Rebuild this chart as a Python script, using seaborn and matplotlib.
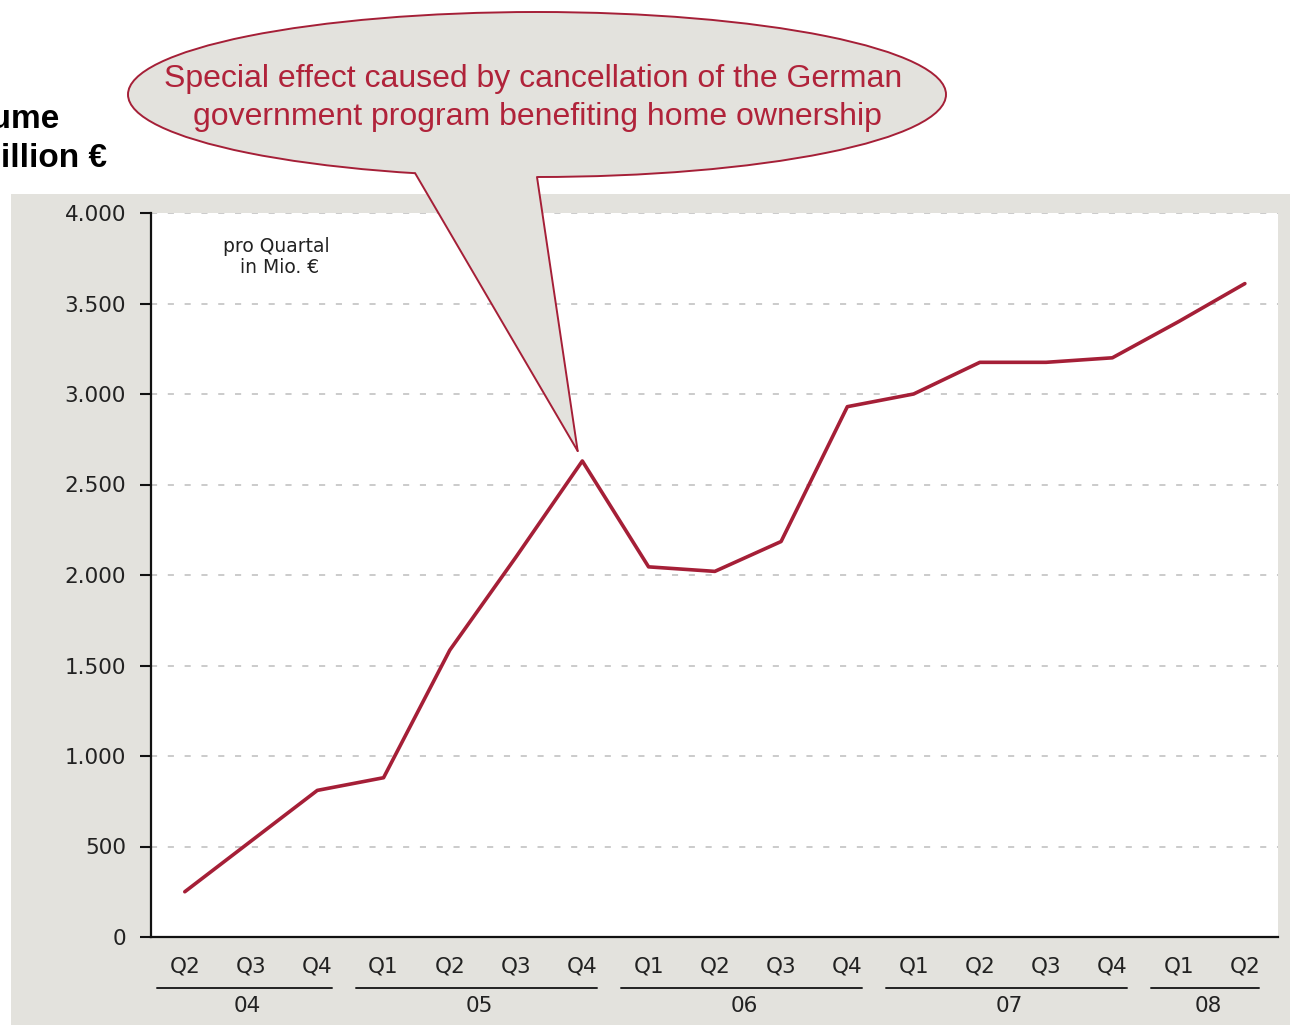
import matplotlib
matplotlib.use("Agg")
import matplotlib.pyplot as plt
import matplotlib.transforms as mtransforms
from matplotlib.patches import Ellipse, Polygon, Rectangle
from matplotlib.lines import Line2D
from matplotlib.ticker import FuncFormatter, MultipleLocator
import numpy as np
import pandas as pd
import seaborn as sns

# Quarterly volume, million EUR
quarters = ["Q2", "Q3", "Q4",
            "Q1", "Q2", "Q3", "Q4",
            "Q1", "Q2", "Q3", "Q4",
            "Q1", "Q2", "Q3", "Q4",
            "Q1", "Q2"]
years = ["04", "04", "04",
         "05", "05", "05", "05",
         "06", "06", "06", "06",
         "07", "07", "07", "07",
         "08", "08"]
volume = [250, 530, 810,
          880, 1585, 2100, 2630,
          2045, 2020, 2185,
          2930, 3000, 3175, 3175, 3200,
          3400, 3610]

callout_lines = ["Special effect caused by cancellation of the German",
                 "government program benefiting home ownership"]
peak_index = 6

LINE_RED = "#a51f37"
TEXT_RED = "#b0233a"
PANEL_GRAY = "#e3e2dd"

df = pd.DataFrame({"idx": np.arange(len(volume)), "volume": volume,
                   "quarter": quarters, "year": years})

sns.set_style("white")
plt.rcParams["font.family"] = ["DejaVu Sans"]

W, H = 1290, 1025
fig = plt.figure(figsize=(W / 100, H / 100), dpi=100)
fig.patch.set_facecolor("white")

def fx(px):
    return px / W

def fy(py):
    return 1 - py / H

# gray panel behind the chart
fig.add_artist(Rectangle((fx(11), 0), 1 - fx(11), fy(194), transform=fig.transFigure,
                         facecolor=PANEL_GRAY, edgecolor="none", zorder=0))

ax = fig.add_axes([fx(151), fy(937), fx(1278) - fx(151), fy(213) - fy(937)])
ax.set_facecolor("white")
ax.set_zorder(1)

sns.lineplot(data=df, x="idx", y="volume", color=LINE_RED, linewidth=2.6,
             ax=ax, zorder=3)

ax.set_xlim(-0.51, 16.5)
ax.set_ylim(0, 4000)
ax.yaxis.set_major_locator(MultipleLocator(500))
ax.yaxis.set_major_formatter(FuncFormatter(lambda v, p: f"{int(v):,}".replace(",", ".")))
ax.set_xticks(df["idx"])
ax.set_xticklabels(df["quarter"])
ax.set_xlabel("")
ax.set_ylabel("")

for spine in ("top", "right"):
    ax.spines[spine].set_visible(False)
for spine in ("left", "bottom"):
    ax.spines[spine].set_color("#111111")
    ax.spines[spine].set_linewidth(1.6)

ax.tick_params(axis="y", left=True, length=8, width=1.5, color="#111111",
               labelsize=15.5, labelcolor="#222222", pad=10)
ax.tick_params(axis="x", bottom=False, length=0, labelsize=15.5,
               labelcolor="#222222", pad=14)

for v in range(500, 4001, 500):
    ax.axhline(v, color="#bdbdbd", linewidth=1.1, linestyle=(0, (4, 7)), zorder=1)

# year groups below the quarter labels
trans = mtransforms.blended_transform_factory(ax.transData, ax.transAxes)
for yr, grp in df.groupby("year", sort=False):
    x0 = grp["idx"].min() - 0.42
    x1 = grp["idx"].max() + 0.22
    ax.add_line(Line2D([x0, x1], [-0.0704, -0.0704], transform=trans, color="#222222",
                       linewidth=1.4, clip_on=False))
    ax.text((x0 + x1) / 2 + 0.05, -0.0953, yr, transform=trans, ha="center", va="center",
            fontsize=15.5, color="#222222", clip_on=False)

# unit note inside the plot
fig.text(fx(276), fy(252), "pro Quartal", ha="center", va="baseline",
         fontsize=13.5, color="#222222")
fig.text(fx(280), fy(273), "in Mio. \u20ac", ha="center", va="baseline",
         fontsize=13.5, color="#222222")

# axis title at the top left
fig.text(fx(60), fy(128), "Volume", ha="right", va="baseline", fontsize=24,
         fontweight="bold", family=["Liberation Sans", "DejaVu Sans"], color="black")
fig.text(fx(107), fy(167), "in million \u20ac", ha="right", va="baseline", fontsize=24,
         fontweight="bold", family=["Liberation Sans", "DejaVu Sans"], color="black")

# callout bubble pointing at the peak
cx, cy, ew, eh = 537, 94.5, 818, 165
fig.add_artist(Ellipse((fx(cx), fy(cy)), ew / W, eh / H, transform=fig.transFigure,
                       facecolor=PANEL_GRAY, edgecolor=LINE_RED, linewidth=1.4, zorder=5))

tip_disp = ax.transData.transform((peak_index - 0.07, volume[peak_index] + 55))
tip = fig.transFigure.inverted().transform(tip_disp)
base_l = (fx(415), fy(173))
base_r = (fx(537), fy(177))
fig.add_artist(Polygon([(fx(413), fy(168)), (fx(539), fy(172)), base_r, tuple(tip), base_l],
                       closed=True, transform=fig.transFigure, facecolor=PANEL_GRAY,
                       edgecolor="none", zorder=6))
for b in (base_l, base_r):
    fig.add_artist(Line2D([b[0], tip[0]], [b[1], tip[1]], transform=fig.transFigure,
                          color=LINE_RED, linewidth=1.4, zorder=7))

fig.text(fx(533), fy(87), callout_lines[0], ha="center", va="baseline", fontsize=23,
         family=["Liberation Sans", "DejaVu Sans"], color=TEXT_RED, zorder=8)
fig.text(fx(537), fy(125), callout_lines[1], ha="center", va="baseline", fontsize=23,
         family=["Liberation Sans", "DejaVu Sans"], color=TEXT_RED, zorder=8)

fig.savefig("out.png", dpi=100, facecolor="white")
